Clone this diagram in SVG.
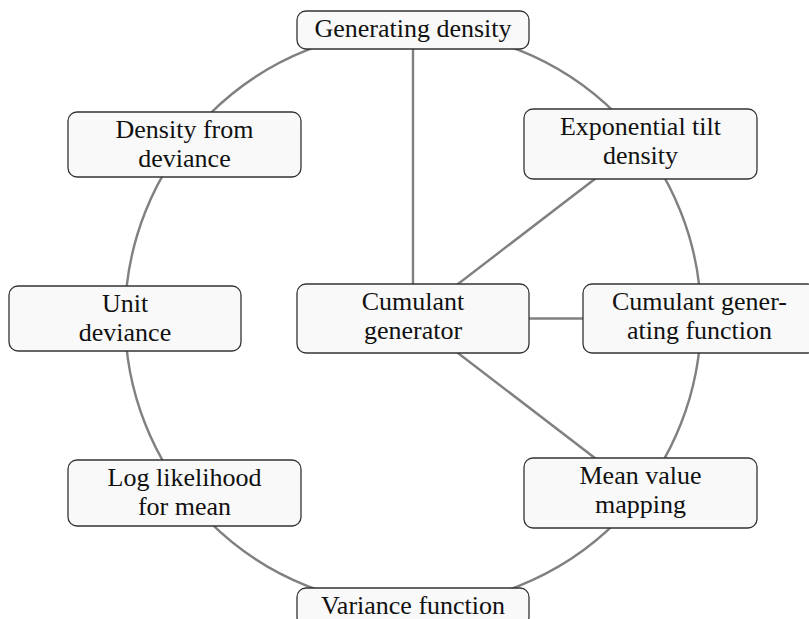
<svg xmlns="http://www.w3.org/2000/svg" width="809" height="619" viewBox="0 0 809 619">
  <style>
    .edge { fill: none; stroke: #808080; stroke-width: 2.4; }
    .box { fill: #f9f9f9; stroke: #333333; stroke-width: 1.3; }
    .lbl { font-size: 26px; fill: #111111; text-anchor: middle; }
  </style>
  <rect width="809" height="619" fill="#ffffff"/>

  <!-- connectors: outer cycle plus spokes from the cumulant generator -->
  <g id="connectors">
    <circle class="edge" cx="413" cy="318" r="288"/>
    <line class="edge" x1="413" y1="318.5" x2="413" y2="30"/>
    <line class="edge" x1="413" y1="318.5" x2="640.5" y2="144"/>
    <line class="edge" x1="413" y1="318.5" x2="699.5" y2="318.5"/>
    <line class="edge" x1="413" y1="318.5" x2="640.5" y2="493"/>
  </g>

  <g font-family="'Liberation Serif', 'DejaVu Serif', serif">
  <g id="generating-density">
    <rect class="box" x="297" y="11" width="232" height="38" rx="9"/>
    <text class="lbl" x="413" y="37">Generating density</text>
  </g>

  <g id="density-from-deviance">
    <rect class="box" x="68" y="112" width="233" height="65" rx="9"/>
    <text class="lbl" x="184.5" y="138">Density from</text>
    <text class="lbl" x="184.5" y="167">deviance</text>
  </g>

  <g id="exponential-tilt-density">
    <rect class="box" x="524" y="109" width="233" height="70" rx="9"/>
    <text class="lbl" x="640.5" y="135">Exponential tilt</text>
    <text class="lbl" x="640.5" y="164">density</text>
  </g>

  <g id="unit-deviance">
    <rect class="box" x="9" y="286" width="232" height="65" rx="9"/>
    <text class="lbl" x="125" y="312">Unit</text>
    <text class="lbl" x="125" y="341">deviance</text>
  </g>

  <g id="cumulant-generator">
    <rect class="box" x="297" y="284" width="232" height="69" rx="9"/>
    <text class="lbl" x="413" y="310">Cumulant</text>
    <text class="lbl" x="413" y="339">generator</text>
  </g>

  <g id="cumulant-generating-function">
    <rect class="box" x="583" y="284" width="233" height="69" rx="9"/>
    <text class="lbl" x="699.5" y="310">Cumulant gener-</text>
    <text class="lbl" x="699.5" y="339">ating function</text>
  </g>

  <g id="log-likelihood-for-mean">
    <rect class="box" x="68" y="460" width="233" height="66" rx="9"/>
    <text class="lbl" x="184.5" y="486">Log likelihood</text>
    <text class="lbl" x="184.5" y="515">for mean</text>
  </g>

  <g id="mean-value-mapping">
    <rect class="box" x="524" y="458" width="233" height="70" rx="9"/>
    <text class="lbl" x="640.5" y="484">Mean value</text>
    <text class="lbl" x="640.5" y="513">mapping</text>
  </g>

  <g id="variance-function">
    <rect class="box" x="297" y="588" width="232" height="38" rx="9"/>
    <text class="lbl" x="413" y="614">Variance function</text>
  </g>
  </g>
</svg>
